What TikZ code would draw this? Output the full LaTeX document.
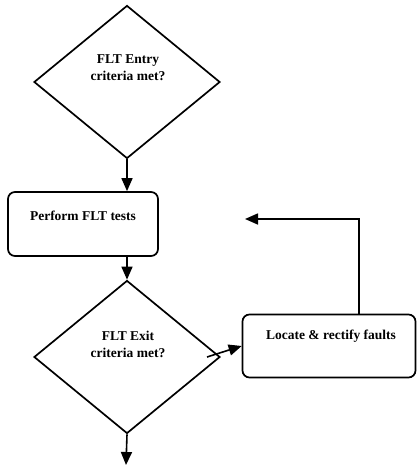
\documentclass[tikz,border=0pt]{standalone}
\usepackage{fontspec}
\setmainfont{Liberation Serif}
\usetikzlibrary{shapes.geometric,arrows.meta}
\begin{document}
\begin{tikzpicture}[x=1pt,y=-1pt,
  shp/.style={draw=black,line width=1.7pt,inner sep=0pt},
  dec/.style={shp,diamond,minimum width=186pt,minimum height=153pt},
  proc/.style={shp,rectangle,rounded corners=7pt},
  lbl/.style={font=\bfseries\fontsize{13.5}{17}\selectfont,align=center,inner sep=0pt},
  conn/.style={line width=1.6pt,-{Triangle[length=13pt,width=11pt]}}]
\useasboundingbox (0,0) rectangle (416,465);
\node[dec] (d1) at (127,82) {};
\node[lbl] (d1t) at (128,67.5) {FLT Entry\\criteria met?};
\node[proc,minimum width=150pt,minimum height=64pt] (b1) at (83,224) {};
\node[lbl] (b1t) at (83,215.5) {Perform FLT tests};
\node[dec] (d2) at (127,357) {};
\node[lbl] (d2t) at (128,344) {FLT Exit\\criteria met?};
\node[proc,minimum width=173pt,minimum height=63pt] (b2) at (329,346) {};
\node[lbl] (b2t) at (331,336) {Locate \& rectify faults};
\coordinate (c1) at (359,219);
\coordinate (c2) at (245,219);
\coordinate (c3) at (126,465);
\coordinate (c4) at (207,357);
\draw[conn] (d1.south) -- (d1.south |- b1.north);
\draw[conn] (b1.south -| d2.north) -- (d2.north);
\draw[conn] (c4) -- (b2.west);
\draw[conn] (d2.south) -- (c3);
\draw[conn] (b2.north -| c1) -- (c1) -- (c2);
\end{tikzpicture}
\end{document}
